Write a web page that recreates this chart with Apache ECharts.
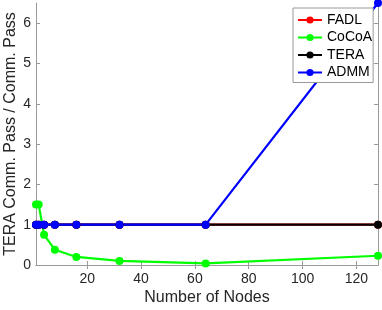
<!DOCTYPE html>
<html>
<head>
<meta charset="utf-8">
<script src="https://cdn.jsdelivr.net/npm/echarts@6/dist/echarts.min.js"></script>
<style>html,body{margin:0;padding:0;background:#fff}#c{width:382px;height:310px}</style>
</head>
<body>
<div id="c"></div>
<script>
const nodes = [1, 2, 4, 8, 16, 32, 64, 128];
const fadl  = [1, 1, 1, 1, 1, 1, 1, 1];
const cocoa = [1.5, 1.5, 0.75, 0.38, 0.2, 0.1, 0.04, 0.23];
const tera  = [1, 1, 1, 1, 1, 1, 1, 1];
const admm  = [1, 1, 1, 1, 1, 1, 1, 6.5];
const xTicks = [20, 40, 60, 80, 100, 120];
const yTicks = [0, 1, 2, 3, 4, 5, 6];

const pair = (ys) => nodes.map((x, i) => [x, ys[i]]);
const font = 'Liberation Sans, Arial, Helvetica, sans-serif';
const axisGray = '#9a9a9a';
const txt = '#262626';

const chart = echarts.init(document.getElementById('c'), null, {renderer: 'canvas'});
function mkSeries(name, ys, color) {
  return {
    name, type: 'line', data: pair(ys),
    symbol: 'circle', symbolSize: 8,
    lineStyle: {color, width: 2.2},
    itemStyle: {color},
    animation: false
  };
}
chart.setOption({
  animation: false,
  grid: {left: 36, right: 4, top: 3, bottom: 45, containLabel: false, outerBoundsMode: 'none'},
  xAxis: [{
    type: 'value', min: 1, max: 128, position: 'bottom',
    name: 'Number of Nodes', nameLocation: 'middle', nameGap: 25, nameMoveOverlap: false,
    nameTextStyle: {color: txt, fontSize: 16, fontFamily: font},
    axisLine: {show: true, lineStyle: {color: axisGray, width: 1}},
    axisTick: {show: true, inside: true, length: 4, customValues: xTicks, lineStyle: {color: axisGray}},
    axisLabel: {show: true, customValues: xTicks, color: txt, fontSize: 14, fontFamily: font, margin: 7},
    splitLine: {show: false}
  }, {
    type: 'value', min: 1, max: 128, position: 'top',
    axisLine: {show: true, lineStyle: {color: axisGray, width: 1}},
    axisTick: {show: true, inside: true, length: 4, customValues: xTicks, lineStyle: {color: axisGray}},
    axisLabel: {show: false},
    splitLine: {show: false}
  }],
  yAxis: [{
    type: 'value', min: 0, max: 6.5, position: 'left',
    name: 'TERA Comm. Pass / Comm. Pass', nameLocation: 'middle', nameGap: 17, nameMoveOverlap: false,
    nameTextStyle: {color: txt, fontSize: 16, fontFamily: font},
    axisLine: {show: true, lineStyle: {color: axisGray, width: 1}},
    axisTick: {show: true, inside: true, length: 4, customValues: yTicks, lineStyle: {color: axisGray}},
    axisLabel: {show: true, customValues: yTicks, color: txt, fontSize: 14, fontFamily: font, margin: 5},
    splitLine: {show: false}
  }, {
    type: 'value', min: 0, max: 6.5, position: 'right',
    axisLine: {show: true, lineStyle: {color: axisGray, width: 1}},
    axisTick: {show: true, inside: true, length: 4, customValues: yTicks, lineStyle: {color: axisGray}},
    axisLabel: {show: false},
    splitLine: {show: false}
  }],
  legend: {
    orient: 'vertical', left: 293, top: 8,
    padding: [5, 1, 3, 4], itemGap: 3.5, itemWidth: 24, itemHeight: 9,
    backgroundColor: '#fff', borderColor: '#9a9a9a', borderWidth: 1, borderRadius: 0,
    textStyle: {color: '#000', fontSize: 14, fontFamily: font, lineHeight: 14},
    data: ['FADL', 'CoCoA', 'TERA', 'ADMM']
  },
  series: [
    mkSeries('FADL', fadl, '#ff0000'),
    mkSeries('CoCoA', cocoa, '#00ff00'),
    mkSeries('TERA', tera, '#000000'),
    mkSeries('ADMM', admm, '#0000ff')
  ]
});
</script>
</body>
</html>
